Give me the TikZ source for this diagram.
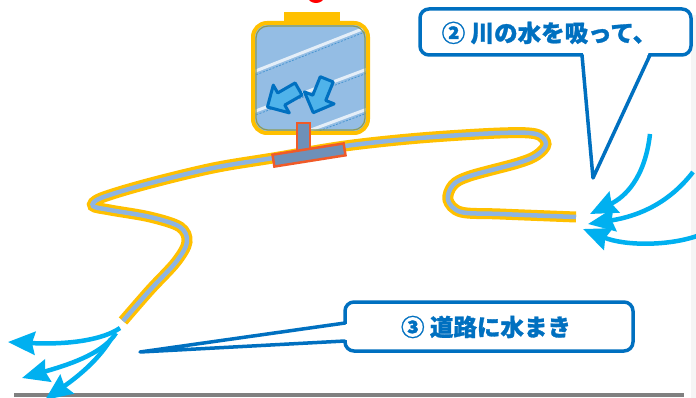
\documentclass[tikz,border=0pt]{standalone}
\usepackage{fontspec}
\newfontfamily\jp[BoldFeatures={FakeBold=1.2}]{Noto Sans CJK JP}
\usetikzlibrary{arrows.meta}
\definecolor{hoseyellow}{HTML}{FFC000}
\definecolor{hoseblue}{HTML}{8DB4E2}
\definecolor{calloutblue}{HTML}{0070C0}
\definecolor{sprayblue}{HTML}{00B0F0}
\definecolor{tankblue}{HTML}{94BDE4}
\definecolor{tankedge}{HTML}{8A9A5B}
\definecolor{fitred}{HTML}{F05A28}
\definecolor{fitfill}{HTML}{6E90B8}
\definecolor{squeezefill}{HTML}{4FB3EA}
\tikzset{
  callout/.style={draw=calloutblue, line width=3.5pt, rounded corners=9pt, fill=white, inner sep=0pt},
  calloutlabel/.style={font=\jp\bfseries\fontsize{23.5}{26}\selectfont, text=calloutblue, inner sep=0pt},
  tail/.style={draw=calloutblue, line width=3.5pt, line cap=round, line join=round},
  spray/.style={draw=sprayblue, line width=4.5pt, -{Stealth[length=27pt,width=23pt,inset=3pt]}},
  squeeze/.style={draw=calloutblue, fill=squeezefill, line width=3pt, line join=round},
  fitting/.style={draw=fitred, fill=fitfill, line width=2.5pt},
  streak/.style={white, line width=3pt, opacity=0.75},
  streakline/.style={calloutblue, line width=0.8pt, opacity=0.5, dash pattern=on 2pt off 1.5pt},
}
% block arrow pointing along +x, centred on the origin
\newcommand\blockarrow{(-18,-7) -- (2,-7) -- (2,-16) -- (18,0) -- (2,16) -- (2,7) -- (-18,7) -- cycle}
\begin{document}
\begin{tikzpicture}[x=1pt,y=-1pt]
  \useasboundingbox (0,0) rectangle (696,398);
  \fill[white] (0,0) rectangle (696,398);
  % faint strip on the right and floor line
  \fill[black!4] (691,15) rectangle (696,398);
  \draw[gray, line width=4pt] (14,395) -- (684,395);

  % red mark above the tank
  \fill[red] (316,-3) ellipse [x radius=8, y radius=6];

  % tank cap and body
  \fill[hoseyellow] (284,12) rectangle (340,25);
  \fill[tankblue] [rounded corners=14pt] (253,23) rectangle (368,133);
  \begin{scope}
    \clip[rounded corners=14pt] (253,23) rectangle (368,133);
    \draw[streak] (253,72) -- (370,26);
    \draw[streakline] (253,76) -- (370,30);
    \draw[streak] (253,112) -- (370,68);
    \draw[streakline] (253,116) -- (370,72);
    \draw[streak] (300,134) -- (370,108);
    \draw[streakline] (300,138) -- (370,112);
  \end{scope}
  \draw[hoseyellow, line width=4pt, rounded corners=14pt] (253,23) rectangle (368,133);
  \draw[tankedge, line width=1.2pt, rounded corners=12pt] (256,26) rectangle (365,130);

  % squeezing arrows inside the tank
  \begin{scope}[shift={(283,98)}, rotate=210]
    \draw[squeeze] \blockarrow;
  \end{scope}
  \begin{scope}[shift={(320,96)}, rotate=248]
    \draw[squeeze] \blockarrow;
  \end{scope}

  % hose
  \draw[hoseblue, line width=4.5pt, preaction={draw=hoseyellow, line width=11pt}]
    plot[smooth, tension=0.55] coordinates {
      (123,321) (150,290) (176,262) (187,242) (180,227) (150,217) (110,210) (93,206)
      (101,198) (147,184) (213,168) (273,158) (345,146) (420,138) (500,133)
      (536,134) (546,144) (537,155) (518,163) (470,176) (453,185) (448,200)
      (461,212) (500,214) (576,217)};

  % T fitting on the hose
  \draw[fitting] (297,123) rectangle (310,151);
  \node[fitting, minimum width=72pt, minimum height=12pt, inner sep=0pt, rotate=9] (bar) at (309,155) {};

  % water drawn in at the hose end
  \coordinate (inA) at (650,134);
  \coordinate (inB) at (693,172);
  \coordinate (inC) at (697,236);
  \coordinate (endA) at (590,214);
  \coordinate (endB) at (588,224);
  \coordinate (endC) at (583,229);
  \draw[spray] (inA) .. controls (645,178) and (625,197) .. (endA);
  \draw[spray] (inB) .. controls (670,202) and (640,216) .. (endB);
  \draw[spray] (inC) .. controls (668,246) and (625,246) .. (endC);

  % water sprayed from the other end
  \coordinate (outS1) at (120,328);
  \coordinate (outS2) at (116,333);
  \coordinate (outS3) at (111,339);
  \coordinate (outT1) at (8,342);
  \coordinate (outT2) at (22,378);
  \coordinate (outT3) at (45,400);
  \draw[spray] (outS1) .. controls (104,339) and (72,345) .. (outT1);
  \draw[spray] (outS2) .. controls (104,352) and (75,363) .. (outT2);
  \draw[spray] (outS3) .. controls (96,364) and (70,382) .. (outT3);

  % callout 2
  \node[callout, minimum width=271pt, minimum height=46pt] (box2) at (555.5,32) {};
  \coordinate (tip2) at (593,178);
  \coordinate (b2L) at (582,55);
  \coordinate (b2R) at (650,55);
  \fill[white] (583,52) -- (649,52) -- (tip2) -- cycle;
  \draw[tail] (b2L) -- (tip2) -- (b2R);
  \node[calloutlabel] (t2) at (549,33) {② 川の水を吸って、};

  % callout 3
  \node[callout, minimum width=288pt, minimum height=49pt] (box3) at (489,326.5) {};
  \coordinate (tip3) at (140,352);
  \coordinate (b3T) at (345,323);
  \coordinate (b3B) at (345,341);
  \fill[white] (348,324) -- (348,340) -- (tip3) -- cycle;
  \draw[tail] (b3T) -- (tip3) -- (b3B);
  \node[calloutlabel] (t3) at (486,327) {③ 道路に水まき};
\end{tikzpicture}
\end{document}
